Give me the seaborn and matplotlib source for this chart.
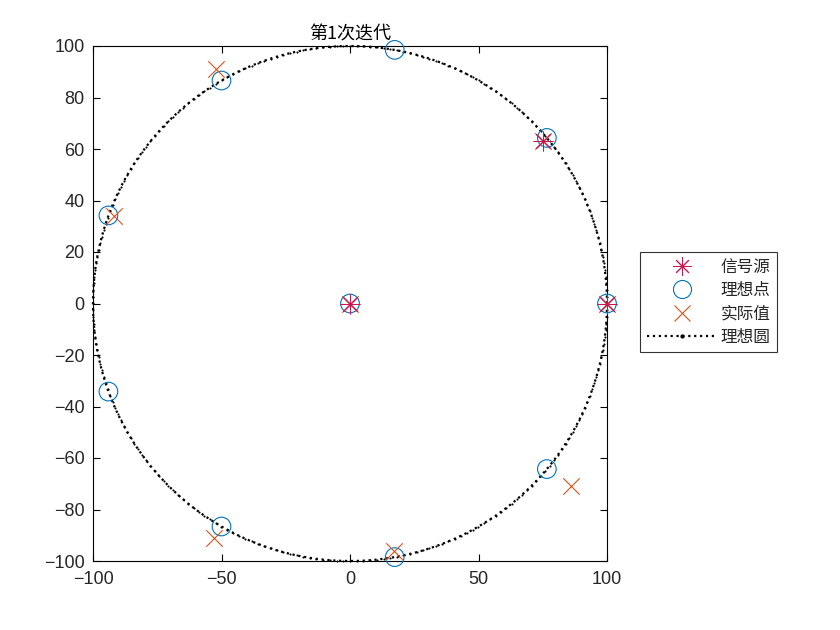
import numpy as np
import pandas as pd
import matplotlib
matplotlib.use("Agg")
import matplotlib.pyplot as plt
import seaborn as sns
from matplotlib.lines import Line2D

sns.set_style("white")
plt.rcParams['font.family'] = ['Liberation Sans', 'Noto Sans CJK SC', 'DejaVu Sans']

title = "第1次迭代"
labels = ["信号源", "理想点", "实际值", "理想圆"]

# signal sources
src_x = [0, 100, 75]
src_y = [0, 0, 63]
# ideal points
ideal_x = [0, 100, 76.6, 17.4, -50.0, -94.0, -94.0, -50.0, 17.4, 76.6]
ideal_y = [0, 0, 64.3, 98.5, 86.6, 34.2, -34.2, -86.6, -98.5, -64.3]
# actual values
act_x = [0, 100, 75, -52, -92, -53, 17, 86]
act_y = [0, 0, 63, 91, 34, -91, -96, -71]
# ideal circle
radius = 100
n_circle = 241

theta = np.linspace(0, 2 * np.pi, n_circle)
circ = pd.DataFrame({"x": radius * np.cos(theta), "y": radius * np.sin(theta)})

c_src = "#C8174E"
c_ideal = "#0072BD"
c_act = "#D95319"
c_txt = "#262626"

fig = plt.figure(figsize=(8.4, 6.3), dpi=100)
ax = fig.add_axes([93 / 840, 1 - 561 / 630, 514 / 840, 515 / 630])

sns.lineplot(data=circ, x="x", y="y", sort=False, estimator=None, ax=ax,
             color="black", linestyle=":", linewidth=1.6, marker=".",
             markersize=3, markeredgewidth=0, zorder=1, clip_on=False)
sns.scatterplot(x=ideal_x, y=ideal_y, ax=ax, marker="o", s=180,
                facecolor="none", edgecolor=c_ideal, linewidth=0.8, zorder=3,
                clip_on=False)
sns.scatterplot(x=act_x, y=act_y, ax=ax, marker="x", s=140,
                color=c_act, linewidth=0.8, zorder=4, clip_on=False)
sns.scatterplot(x=src_x, y=src_y, ax=ax, marker=(8, 2, 0), s=190,
                color=c_src, linewidth=0.7, zorder=5, clip_on=False)

ax.set_xlim(-100, 100)
ax.set_ylim(-100, 100)
ax.set_xticks([-100, -50, 0, 50, 100])
ax.set_yticks(list(range(-100, 101, 20)))
ax.set_xlabel("")
ax.set_ylabel("")
for s in ax.spines.values():
    s.set_visible(True)
    s.set_color("black")
    s.set_linewidth(0.8)
ax.tick_params(direction="in", length=5, width=0.8, labelsize=13,
               color="black", labelcolor=c_txt, top=True, right=True,
               bottom=True, left=True, labeltop=False, labelright=False)
ax.tick_params(axis="x", pad=7)
ax.tick_params(axis="y", pad=6)
ax.set_title(title, fontsize=13, family=['Noto Sans CJK SC', 'DejaVu Sans'],
             pad=5, color="black")

handles = [
    Line2D([], [], linestyle="none", marker=(8, 2, 0), markersize=13,
           color=c_src, markeredgewidth=0.7),
    Line2D([], [], linestyle="none", marker="o", markersize=13,
           markerfacecolor="none", markeredgecolor=c_ideal, markeredgewidth=0.8),
    Line2D([], [], linestyle="none", marker="x", markersize=11,
           color=c_act, markeredgewidth=0.8),
    Line2D([], [], linestyle=":", linewidth=1.6, color="black", marker=".",
           markersize=4),
]
leg = fig.legend(handles, labels, loc="upper left",
                 bbox_to_anchor=(640 / 840, 1 - 252 / 630),
                 prop={"family": ['Noto Sans CJK SC', 'DejaVu Sans'], "size": 12},
                 frameon=True, fancybox=False, edgecolor="black",
                 handlelength=4.2, handletextpad=0.25, borderpad=0.4,
                 labelspacing=0.38, borderaxespad=0)
leg.get_frame().set_linewidth(0.8)

fig.savefig("out.png", dpi=100)
